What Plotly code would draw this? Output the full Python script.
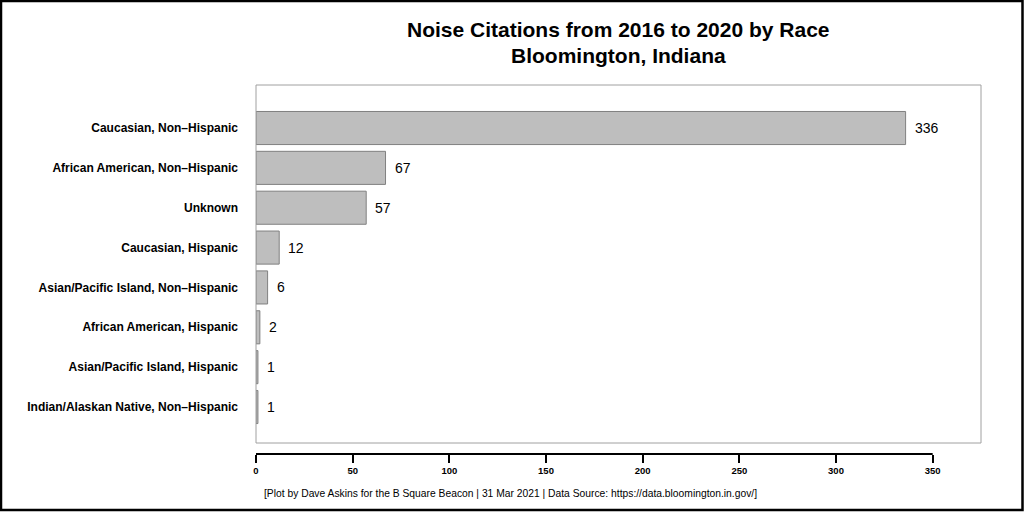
import plotly.graph_objects as go

categories = [
    "Caucasian, Non\u2013Hispanic",
    "African American, Non\u2013Hispanic",
    "Unknown",
    "Caucasian, Hispanic",
    "Asian/Pacific Island, Non\u2013Hispanic",
    "African American, Hispanic",
    "Asian/Pacific Island, Hispanic",
    "Indian/Alaskan Native, Non\u2013Hispanic",
]
values = [336, 67, 57, 12, 6, 2, 1, 1]
x_ticks = [0, 50, 100, 150, 200, 250, 300, 350]

title_lines = ["Noise Citations from 2016 to 2020 by Race", "Bloomington, Indiana"]
caption = ("[Plot by Dave Askins for the B Square Beacon | 31 Mar 2021 | "
           "Data Source: https://data.bloomington.in.gov/]")

FONT = "Liberation Sans, Arial, Helvetica, sans-serif"
W, H = 1024, 512
ML, MR, MT, MB = 256, 43, 85, 58
plot_h = H - MT - MB
pw = W - ML - MR
box_bottom_px = 443
ydom0 = (H - MB - box_bottom_px) / plot_h


def px_y(py):
    return (H - MB - py) / plot_h


def px_x(px):
    return (px - ML) / pw


fig = go.Figure()
fig.add_trace(go.Bar(
    x=values, y=categories, orientation="h",
    marker=dict(color="#BEBEBE", line=dict(color="#808080", width=1)),
    width=0.83, showlegend=False, hoverinfo="x+y",
))

annotations = []
for c, v in zip(categories, values):
    annotations.append(dict(
        x=v, y=c, xref="x", yref="y", text=str(v), showarrow=False,
        xanchor="left", yanchor="middle", xshift=7,
        font=dict(family=FONT, size=14, color="black"),
    ))
for line, py in zip(title_lines, [30, 55]):
    annotations.append(dict(
        x=0.5, y=px_y(py), xref="paper", yref="paper", text=line, showarrow=False,
        xanchor="center", yanchor="middle",
        font=dict(family=FONT, size=21, color="black", weight="bold"),
    ))
annotations.append(dict(
    x=px_x(262), y=px_y(493), xref="paper", yref="paper", text=caption,
    showarrow=False, xanchor="left", yanchor="middle",
    font=dict(family=FONT, size=10.3, color="black"),
))

shapes = [
    # plot box
    dict(type="rect", xref="x domain", yref="y domain", x0=0, x1=1, y0=0, y1=1,
         line=dict(color="#A0A0A0", width=1)),
    # axis line from 0 to 350
    dict(type="line", xref="x", yref="paper", x0=x_ticks[0], x1=x_ticks[-1], y0=0, y1=0,
         line=dict(color="black", width=2)),
    # outer frame
    dict(type="rect", xref="paper", yref="paper",
         x0=px_x(1), x1=px_x(W - 1.5), y0=px_y(H - 2), y1=px_y(1),
         line=dict(color="black", width=2.5), layer="above"),
]

fig.update_layout(
    width=W, height=H,
    margin=dict(l=ML, r=MR, t=MT, b=MB, autoexpand=False),
    paper_bgcolor="white", plot_bgcolor="white",
    xaxis=dict(range=[0, 375], tickvals=x_ticks, ticktext=[str(t) for t in x_ticks],
               showgrid=False, zeroline=False, showline=False,
               ticks="outside", ticklen=8, tickwidth=2, tickcolor="black",
               anchor="free", position=0,
               tickfont=dict(family=FONT, size=9.5, color="black", weight="bold")),
    yaxis=dict(categoryorder="array", categoryarray=categories,
               range=[7.903, -1.079], domain=[ydom0, 1],
               showgrid=False, zeroline=False, showline=False, ticks="",
               ticklabelstandoff=17,
               tickfont=dict(family=FONT, size=12, color="black", weight="bold")),
    annotations=annotations, shapes=shapes,
    bargap=0.17,
)

fig.write_html("out.html", config={"displayModeBar": False},
               post_script="document.body.style.margin='0';document.body.style.overflow='hidden';")
